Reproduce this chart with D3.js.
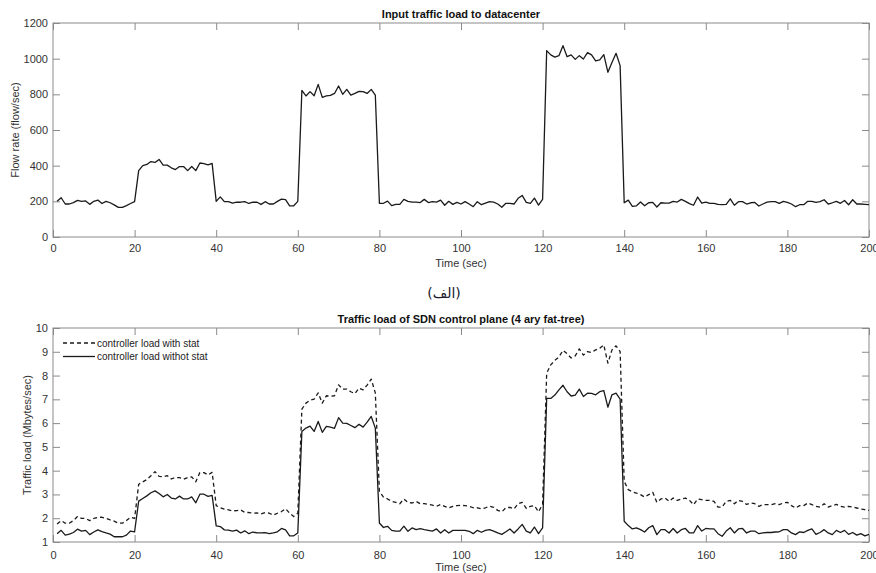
<!DOCTYPE html>
<html>
<head>
<meta charset="utf-8">
<script src="https://cdn.jsdelivr.net/npm/d3@7"></script>
<style>
  body { margin: 0; background: #fff; }
  svg { display: block; font-family: "Liberation Sans", Arial, sans-serif; }
  .tick text { fill: #333; font-size: 11px; }
  .tick line { stroke: #8a8a8a; }
  .title { font-weight: bold; font-size: 11px; fill: #111; }
  .lbl { font-size: 11px; fill: #333; }
</style>
</head>
<body>
<svg id="chart" width="876" height="573"></svg>
<script>
// time axis (sec)
var timeSec = d3.range(1, 201);

var flowRate = [
  200,220,185,185,193,205,200,202,183,200,207,188,200,192,180,166,166,176,188,198,
  372,400,407,423,418,435,403,403,388,378,395,395,372,395,372,415,412,405,413,200,
  225,198,198,190,195,195,198,188,195,195,183,198,185,185,200,212,210,175,175,200,
  822,791,815,792,856,783,791,794,805,847,800,828,796,805,817,815,805,828,796,189,
  189,201,176,183,183,211,200,196,196,193,211,193,198,196,207,178,200,183,194,185,
  198,185,170,198,181,190,198,196,185,167,189,189,185,217,233,194,189,218,179,211,
  1045,1021,1009,1017,1073,1011,1021,996,1017,998,1034,1021,987,993,1023,924,978,1030,961,192,
  207,172,175,196,175,192,194,168,192,190,190,200,196,211,200,187,178,224,190,196,
  189,189,183,181,183,214,178,198,198,185,192,194,174,185,196,198,198,189,200,194,
  185,170,181,181,200,200,194,198,209,185,192,200,189,205,181,209,185,185,183,181
];

var loadWithStat = [
  1.76,1.90,1.79,1.79,1.90,2.07,1.99,1.99,1.90,1.99,2.04,2.04,1.99,1.93,1.88,1.79,1.79,1.90,2.04,1.99,
  3.43,3.53,3.63,3.79,3.96,3.76,3.74,3.79,3.65,3.71,3.71,3.64,3.71,3.74,3.53,3.92,3.92,3.82,3.93,2.53,
  2.44,2.38,2.35,2.31,2.32,2.35,2.24,2.24,2.21,2.22,2.18,2.24,2.21,2.13,2.21,2.28,2.40,2.21,2.07,2.21,
  6.59,6.84,6.96,7.01,7.27,6.84,7.15,7.13,7.15,7.61,7.43,7.43,7.32,7.24,7.47,7.40,7.60,7.85,7.27,3.13,
  2.89,2.81,2.71,2.67,2.61,2.81,2.67,2.64,2.71,2.61,2.61,2.58,2.55,2.50,2.58,2.50,2.43,2.50,2.53,2.54,
  2.53,2.50,2.44,2.44,2.39,2.44,2.50,2.46,2.33,2.27,2.44,2.46,2.39,2.61,2.67,2.41,2.50,2.53,2.27,2.58,
  8.10,8.45,8.64,8.78,9.06,8.92,8.74,8.83,9.12,8.86,9.01,8.97,9.08,9.15,9.29,8.52,9.08,9.25,9.01,3.55,
  3.20,3.11,3.06,2.99,2.89,2.99,3.09,2.67,2.81,2.85,2.71,2.85,2.75,2.81,2.85,2.75,2.57,2.81,2.78,2.75,
  2.75,2.71,2.47,2.47,2.71,2.75,2.61,2.75,2.71,2.58,2.64,2.61,2.50,2.57,2.57,2.57,2.61,2.57,2.64,2.67,
  2.53,2.43,2.53,2.53,2.64,2.57,2.50,2.47,2.61,2.47,2.53,2.58,2.50,2.47,2.50,2.47,2.43,2.39,2.36,2.33
];

var loadWithoutStat = [
  1.35,1.49,1.29,1.33,1.40,1.54,1.46,1.49,1.31,1.42,1.51,1.44,1.38,1.33,1.22,1.22,1.22,1.29,1.46,1.43,
  2.72,2.83,2.94,3.07,3.15,3.04,2.90,3.00,2.85,2.81,2.93,2.81,2.81,2.90,2.65,3.01,3.01,2.92,2.96,1.68,
  1.65,1.51,1.50,1.46,1.50,1.38,1.47,1.35,1.42,1.38,1.38,1.39,1.35,1.38,1.43,1.57,1.51,1.26,1.26,1.38,
  5.65,5.79,5.87,5.65,6.07,5.61,5.86,5.83,5.78,6.23,6.00,5.99,5.90,5.81,5.95,5.83,6.04,6.28,5.79,1.80,
  1.61,1.66,1.49,1.46,1.46,1.67,1.45,1.59,1.52,1.56,1.52,1.49,1.46,1.55,1.38,1.52,1.38,1.49,1.49,1.49,
  1.49,1.45,1.35,1.49,1.41,1.49,1.52,1.46,1.38,1.32,1.43,1.55,1.38,1.55,1.74,1.46,1.38,1.63,1.35,1.59,
  7.04,7.04,7.18,7.40,7.59,7.32,7.14,7.18,7.43,7.12,7.26,7.25,7.19,7.32,7.37,6.67,7.19,7.26,7.01,1.87,
  1.69,1.55,1.59,1.52,1.42,1.60,1.69,1.31,1.52,1.52,1.38,1.57,1.38,1.52,1.57,1.38,1.38,1.69,1.46,1.57,
  1.55,1.55,1.35,1.24,1.46,1.60,1.38,1.55,1.57,1.38,1.46,1.46,1.35,1.38,1.40,1.40,1.42,1.43,1.52,1.52,
  1.38,1.31,1.43,1.40,1.49,1.55,1.32,1.40,1.52,1.38,1.31,1.49,1.40,1.49,1.32,1.40,1.29,1.35,1.26,1.32
];

var xTicks = [0,20,40,60,80,100,120,140,160,180,200];
var flowTicks = [0,200,400,600,800,1000,1200];
var loadTicks = [1,2,3,4,5,6,7,8,9,10];
var legendNames = ["controller load with stat", "controller load withot stat"];

var svg = d3.select("#chart");

var drawPanel = function(p){
  var width = 869 - 53, height = p.bottom - p.top;
  var g = svg.append("g").attr("transform", "translate(53," + p.top + ")");

  var xScale = d3.scaleLinear().domain([0, 200]).range([0, width]);
  var yScale = d3.scaleLinear().domain(p.yDomain).range([height, 0]);

  // MATLAB style box with inward ticks on all four sides
  g.append("g").attr("transform", "translate(0," + height + ")")
    .call(d3.axisBottom(xScale).tickValues(xTicks).tickSize(-7).tickPadding(p.xPad).tickFormat(d3.format("d")))
    .call(function(a){ a.select(".domain").remove(); });
  g.append("g")
    .call(d3.axisTop(xScale).tickValues(xTicks).tickSize(-7).tickFormat(""))
    .call(function(a){ a.select(".domain").remove(); });
  g.append("g")
    .call(d3.axisLeft(yScale).tickValues(p.yTicks).tickSize(-7).tickPadding(5).tickFormat(d3.format("d")))
    .call(function(a){ a.select(".domain").remove(); });
  g.append("g").attr("transform", "translate(" + width + ",0)")
    .call(d3.axisRight(yScale).tickValues(p.yTicks).tickSize(-7).tickFormat(""))
    .call(function(a){ a.select(".domain").remove(); });
  g.selectAll(".tick text").attr("font-family", null).attr("font-size", null);

  g.append("rect").attr("width", width).attr("height", height)
    .attr("fill", "none").attr("stroke", "#8a8a8a").attr("stroke-width", 1);

  var line = d3.line()
    .x(function(d, i){ return xScale(timeSec[i]); })
    .y(function(d){ return yScale(d); });

  p.series.forEach(function(s){
    g.append("path").datum(s.values)
      .attr("d", line)
      .attr("fill", "none")
      .attr("stroke", "#1a1a1a")
      .attr("stroke-width", 1.3)
      .attr("stroke-linejoin", "round")
      .attr("stroke-dasharray", s.dash);
  });

  svg.append("text").classed("title", true)
    .attr("x", 461).attr("y", p.top - 5).attr("text-anchor", "middle")
    .text(p.title);
  svg.append("text").classed("lbl", true)
    .attr("x", 461).attr("y", p.xLabelY).attr("text-anchor", "middle")
    .text("Time (sec)");
  svg.append("text").classed("lbl", true)
    .attr("transform", "translate(" + p.yLabelX + "," + (p.top + height / 2) + ") rotate(-90)")
    .attr("text-anchor", "middle")
    .text(p.yLabel);

  return g;
};

drawPanel({
  top: 23, bottom: 237, yDomain: [0, 1200], yTicks: flowTicks, xPad: 7,
  title: "Input traffic load to datacenter",
  yLabel: "Flow rate (flow/sec)", yLabelX: 19, xLabelY: 267,
  series: [{ values: flowRate, dash: null }]
});

var g2 = drawPanel({
  top: 328, bottom: 542, yDomain: [1, 10], yTicks: loadTicks, xPad: 9,
  title: "Traffic load of SDN control plane (4 ary fat-tree)",
  yLabel: "Traffic load (Mbytes/sec)", yLabelX: 31, xLabelY: 571,
  series: [{ values: loadWithStat, dash: "4,3" }, { values: loadWithoutStat, dash: null }]
});

// legend (no box)
var legend = g2.selectAll(".legend").data(legendNames).enter().append("g")
  .attr("transform", function(d, i){ return "translate(10," + (15 + i * 13.5) + ")"; });
legend.append("line").attr("x1", 0).attr("x2", 32)
  .attr("stroke", "#1a1a1a").attr("stroke-width", 1.3)
  .attr("stroke-dasharray", function(d, i){ return i === 0 ? "4,3" : null; });
legend.append("text").attr("x", 34).attr("dy", "0.35em")
  .attr("font-size", "10px").attr("fill", "#222").text(function(d){ return d; });

// sub-figure caption between the panels
svg.append("text")
  .attr("x", 444).attr("y", 298).attr("text-anchor", "middle")
  .attr("font-family", "'DejaVu Sans', 'Noto Sans', sans-serif")
  .attr("font-size", "14px").attr("fill", "#1a1a2e")
  .text("(الف)");
</script>
</body>
</html>
